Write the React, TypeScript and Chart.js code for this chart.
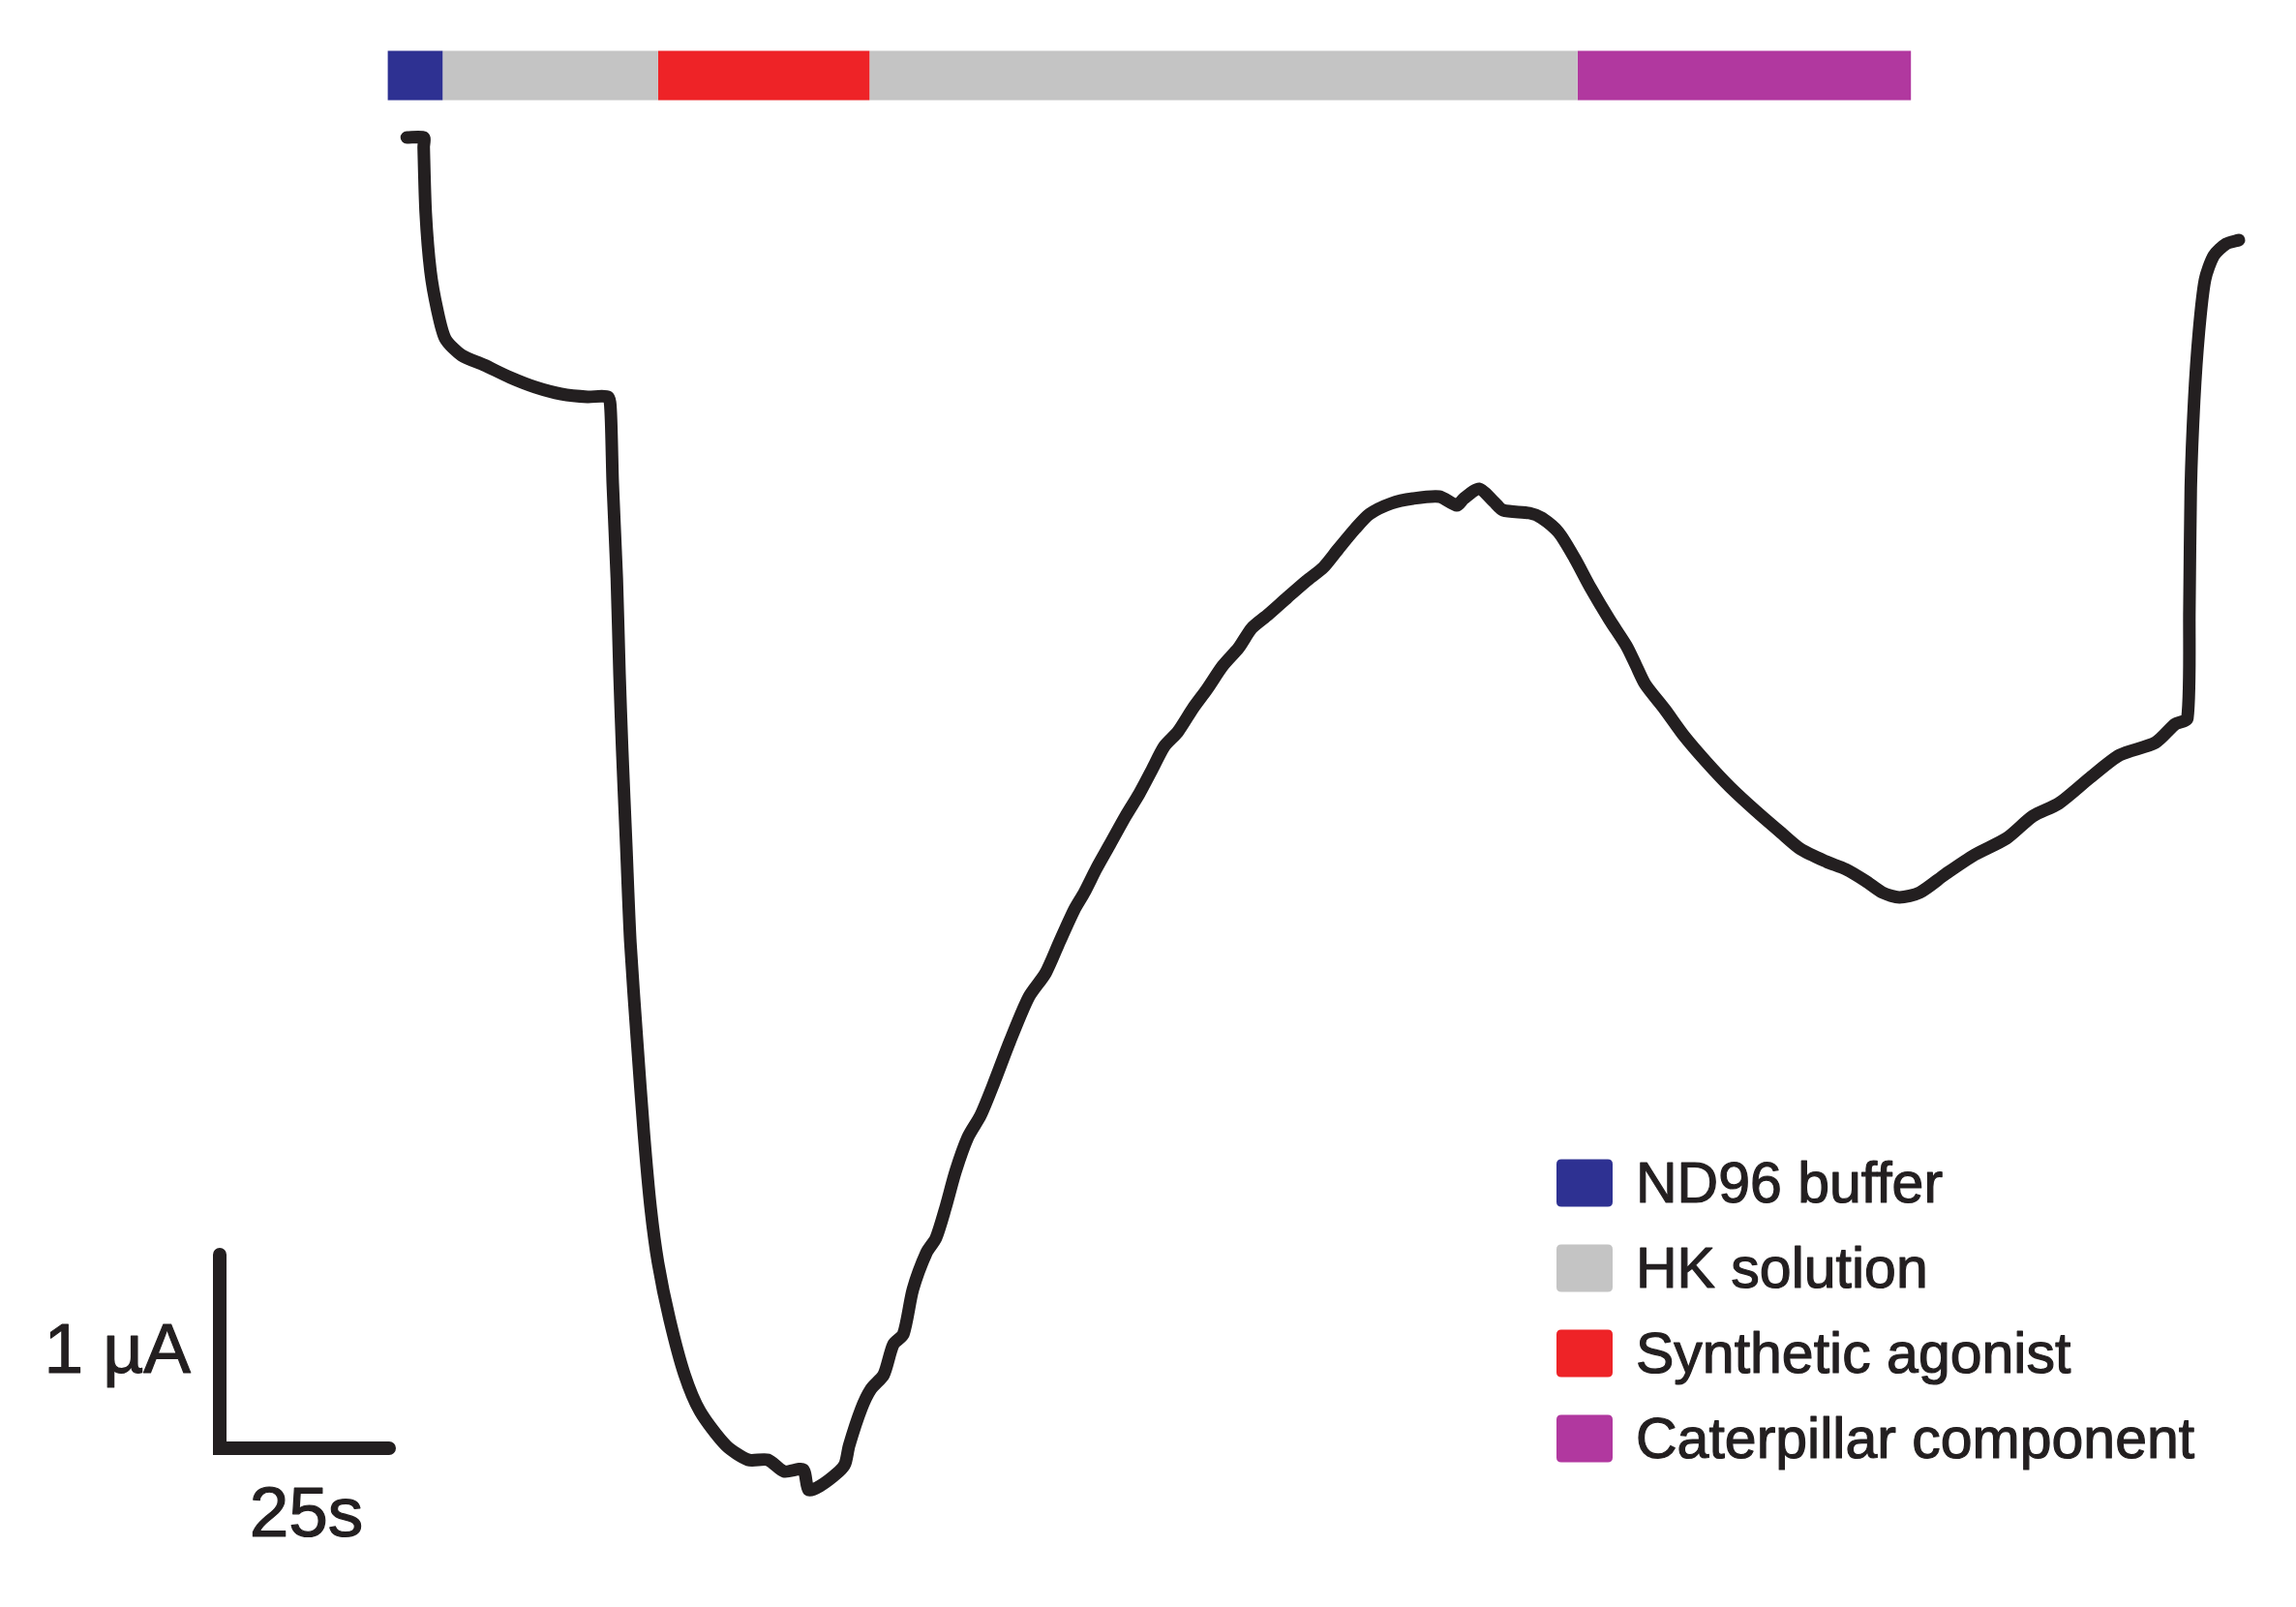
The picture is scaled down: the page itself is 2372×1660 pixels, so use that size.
import React, { useEffect, useRef } from 'react';
import { Chart, registerables } from 'chart.js';

Chart.register(...registerables);

// Membrane current trace: [time (s), current (µA)]
const tracePoints: [number, number][] = [
  [0.6, 0], [3.1, 0], [3.1, -0.05], [3.4, -0.39], [4.1, -0.69], [5.1, -0.89], [6.3, -1.04],
  [8.7, -1.125], [12.0, -1.175], [15.9, -1.24], [19.6, -1.29], [23.4, -1.325], [27.3, -1.34],
  [30.3, -1.34], [30.7, -1.415], [31.0, -1.785], [31.6, -2.275], [32.0, -2.77], [32.4, -3.165],
  [33.0, -3.66], [33.6, -4.155], [34.6, -4.67], [35.6, -5.145], [36.6, -5.53],
  [37.7, -5.815], [39.4, -6.105], [41.6, -6.39], [43.9, -6.58], [47.7, -6.755], [51.0, -6.83],
  [53.9, -6.83], [56.3, -6.89], [59.1, -6.88], [59.9, -6.985], [61.6, -6.965], [64.4, -6.89],
  [65.3, -6.85], [65.9, -6.755], [67.7, -6.565], [69.1, -6.465], [71.0, -6.39], [72.4, -6.235],
  [73.9, -6.18], [75.3, -5.95], [77.3, -5.76], [78.7, -5.685], [80.1, -5.53], [81.6, -5.34],
  [83.4, -5.165], [85.3, -5.05], [87.3, -4.88], [89.6, -4.67], [92.4, -4.44], [94.9, -4.315],
  [97.0, -4.15], [99.1, -3.99], [100.6, -3.9], [102.4, -3.775], [104.4, -3.65], [106.7, -3.505],
  [108.7, -3.39], [110.6, -3.265], [112.4, -3.145], [114.4, -3.07], [116.7, -2.945], [118.7, -2.85],
  [121.0, -2.73], [123.4, -2.635], [125.3, -2.535], [127.7, -2.465], [130.6, -2.375], [133.4, -2.29],
  [135.9, -2.22], [138.1, -2.125], [140.6, -2.02], [142.7, -1.945], [145.9, -1.89], [149.1, -1.865],
  [153.0, -1.855], [155.6, -1.9], [156.6, -1.865], [158.9, -1.815], [161.0, -1.88], [162.4, -1.925],
  [166.3, -1.94], [168.1, -1.965], [170.6, -2.04], [173.0, -2.175], [175.3, -2.325], [178.1, -2.49],
  [180.6, -2.625], [182.0, -2.725], [183.4, -2.825], [186.3, -2.955], [189.1, -3.09], [192.4, -3.225],
  [195.9, -3.355], [199.6, -3.475], [203.4, -3.59], [206.3, -3.675], [210.1, -3.74], [213.0, -3.78],
  [215.9, -3.84], [218.4, -3.9], [220.9, -3.925], [223.9, -3.9], [227.7, -3.805], [232.0, -3.705],
  [236.7, -3.62], [240.6, -3.505], [244.4, -3.44], [249.1, -3.305], [253.4, -3.19], [258.7, -3.125],
  [261.6, -3.03], [263.4, -3.0], [263.7, -2.435], [263.9, -1.81], [264.4, -1.36], [265.1, -1.005],
  [266.0, -0.735], [267.3, -0.61], [269.1, -0.55], [271.0, -0.53],
];

// Perfusion protocol bar (time windows in s)
const stimLabels = ['ND96 buffer', 'HK solution', 'Synthetic agonist', 'HK solution', 'Caterpillar component'];
const stimStart = [-2.2, 5.9, 37.7, 68.9, 173.4];
const stimEnd = [5.9, 37.7, 68.9, 173.4, 222.6];
const stimColors = ['#2E3192', '#C4C4C4', '#EE2327', '#C4C4C4', '#B1389F'];
const stimLevel = 0.32;

// Legend
const legendLabels = ['ND96 buffer', 'HK solution', 'Synthetic agonist', 'Caterpillar component'];
const legendColors = ['#2E3192', '#C4C4C4', '#EE2327', '#B1389F'];

// Scale bar
const scaleBarOrigin: [number, number] = [-27, -6.77];
const scaleBarSeconds = 25;
const scaleBarMicroAmps = 1;
const scaleBarTimeLabel = '25s';
const scaleBarCurrentLabel = '1 µA';

// Visible window
const X_MIN = -59.43;
const X_MAX = 279.43;
const Y_MIN = -7.59;
const Y_MAX = 0.71;

const FONT_FAMILY = '"Liberation Sans", Arial, Helvetica, sans-serif';
const TEXT_COLOR = '#231F20';

function roundRect(ctx: CanvasRenderingContext2D, x: number, y: number, w: number, h: number, r: number) {
  ctx.beginPath();
  ctx.moveTo(x + r, y);
  ctx.lineTo(x + w - r, y);
  ctx.quadraticCurveTo(x + w, y, x + w, y + r);
  ctx.lineTo(x + w, y + h - r);
  ctx.quadraticCurveTo(x + w, y + h, x + w - r, y + h);
  ctx.lineTo(x + r, y + h);
  ctx.quadraticCurveTo(x, y + h, x, y + h - r);
  ctx.lineTo(x, y + r);
  ctx.quadraticCurveTo(x, y, x + r, y);
  ctx.closePath();
}

function boldText(ctx: CanvasRenderingContext2D, text: string, x: number, y: number) {
  ctx.fillText(text, x, y);
  ctx.strokeText(text, x, y);
}

export default function App() {
  const ref = useRef<HTMLCanvasElement>(null);

  useEffect(() => {
    const canvas = ref.current;
    if (!canvas) return;

    const annotations = {
      id: 'annotations',
      afterDatasetsDraw(chart: any) {
        const ctx: CanvasRenderingContext2D = chart.ctx;
        const xs = chart.scales.x;
        const ys = chart.scales.y;
        ctx.save();
        ctx.fillStyle = TEXT_COLOR;
        ctx.strokeStyle = TEXT_COLOR;
        ctx.lineWidth = 1.2;
        ctx.lineJoin = 'round';

        // scale bar labels
        const barLeft = xs.getPixelForValue(scaleBarOrigin[0]);
        const barRight = xs.getPixelForValue(scaleBarOrigin[0] + scaleBarSeconds);
        const barBottom = ys.getPixelForValue(scaleBarOrigin[1]);
        const barMid = ys.getPixelForValue(scaleBarOrigin[1] + scaleBarMicroAmps / 2);
        ctx.font = `73px ${FONT_FAMILY}`;
        ctx.textBaseline = 'alphabetic';
        ctx.textAlign = 'right';
        boldText(ctx, scaleBarCurrentLabel, barLeft - 30, barMid + 22);
        ctx.textAlign = 'center';
        boldText(ctx, scaleBarTimeLabel, (barLeft + barRight) / 2 + 2, barBottom + 91);

        // legend
        const boxX = 1608;
        const boxW = 58;
        const boxH = 49;
        const firstY = 1222;
        const gap = 88;
        ctx.font = `59px ${FONT_FAMILY}`;
        ctx.textAlign = 'left';
        legendLabels.forEach((label, i) => {
          const cy = firstY + i * gap;
          ctx.fillStyle = legendColors[i];
          roundRect(ctx, boxX, cy - boxH / 2, boxW, boxH, 5);
          ctx.fill();
          ctx.fillStyle = TEXT_COLOR;
          boldText(ctx, label, 1690, cy + 20);
        });
        ctx.restore();
      },
    };

    const datasets: any[] = [];
    stimStart.forEach((s, i) => {
      datasets.push({
        label: stimLabels[i],
        data: [{ x: s, y: stimLevel }, { x: stimEnd[i], y: stimLevel }],
        borderColor: stimColors[i],
        borderWidth: 51,
        borderCapStyle: 'butt',
        pointRadius: 0,
        tension: 0,
        fill: false,
      });
    });
    datasets.push({
      label: 'Current',
      data: tracePoints.map(([x, y]) => ({ x, y })),
      borderColor: '#231F20',
      borderWidth: 13,
      borderJoinStyle: 'round',
      borderCapStyle: 'round',
      pointRadius: 0,
      tension: 0.25,
      fill: false,
    });
    datasets.push({
      label: 'Scale bar',
      data: [
        { x: scaleBarOrigin[0], y: scaleBarOrigin[1] + scaleBarMicroAmps },
        { x: scaleBarOrigin[0], y: scaleBarOrigin[1] },
        { x: scaleBarOrigin[0] + scaleBarSeconds, y: scaleBarOrigin[1] },
      ],
      borderColor: '#231F20',
      borderWidth: 14,
      borderJoinStyle: 'miter',
      borderCapStyle: 'round',
      pointRadius: 0,
      tension: 0,
      fill: false,
    });

    const chart = new Chart(canvas, {
      type: 'line',
      data: { datasets },
      options: {
        animation: false,
        responsive: false,
        maintainAspectRatio: false,
        devicePixelRatio: 1,
        layout: { padding: 0 },
        plugins: { legend: { display: false }, tooltip: { enabled: false } },
        scales: {
          x: { type: 'linear', min: X_MIN, max: X_MAX, display: false },
          y: { type: 'linear', min: Y_MIN, max: Y_MAX, display: false },
        },
      },
      plugins: [annotations],
    } as any);

    return () => chart.destroy();
  }, []);

  return (
    <div style={{ position: 'fixed', left: 0, top: 0, width: 2372, height: 1660, background: '#ffffff' }}>
      <canvas ref={ref} width={2372} height={1660} style={{ display: 'block', width: 2372, height: 1660 }} />
    </div>
  );
}
